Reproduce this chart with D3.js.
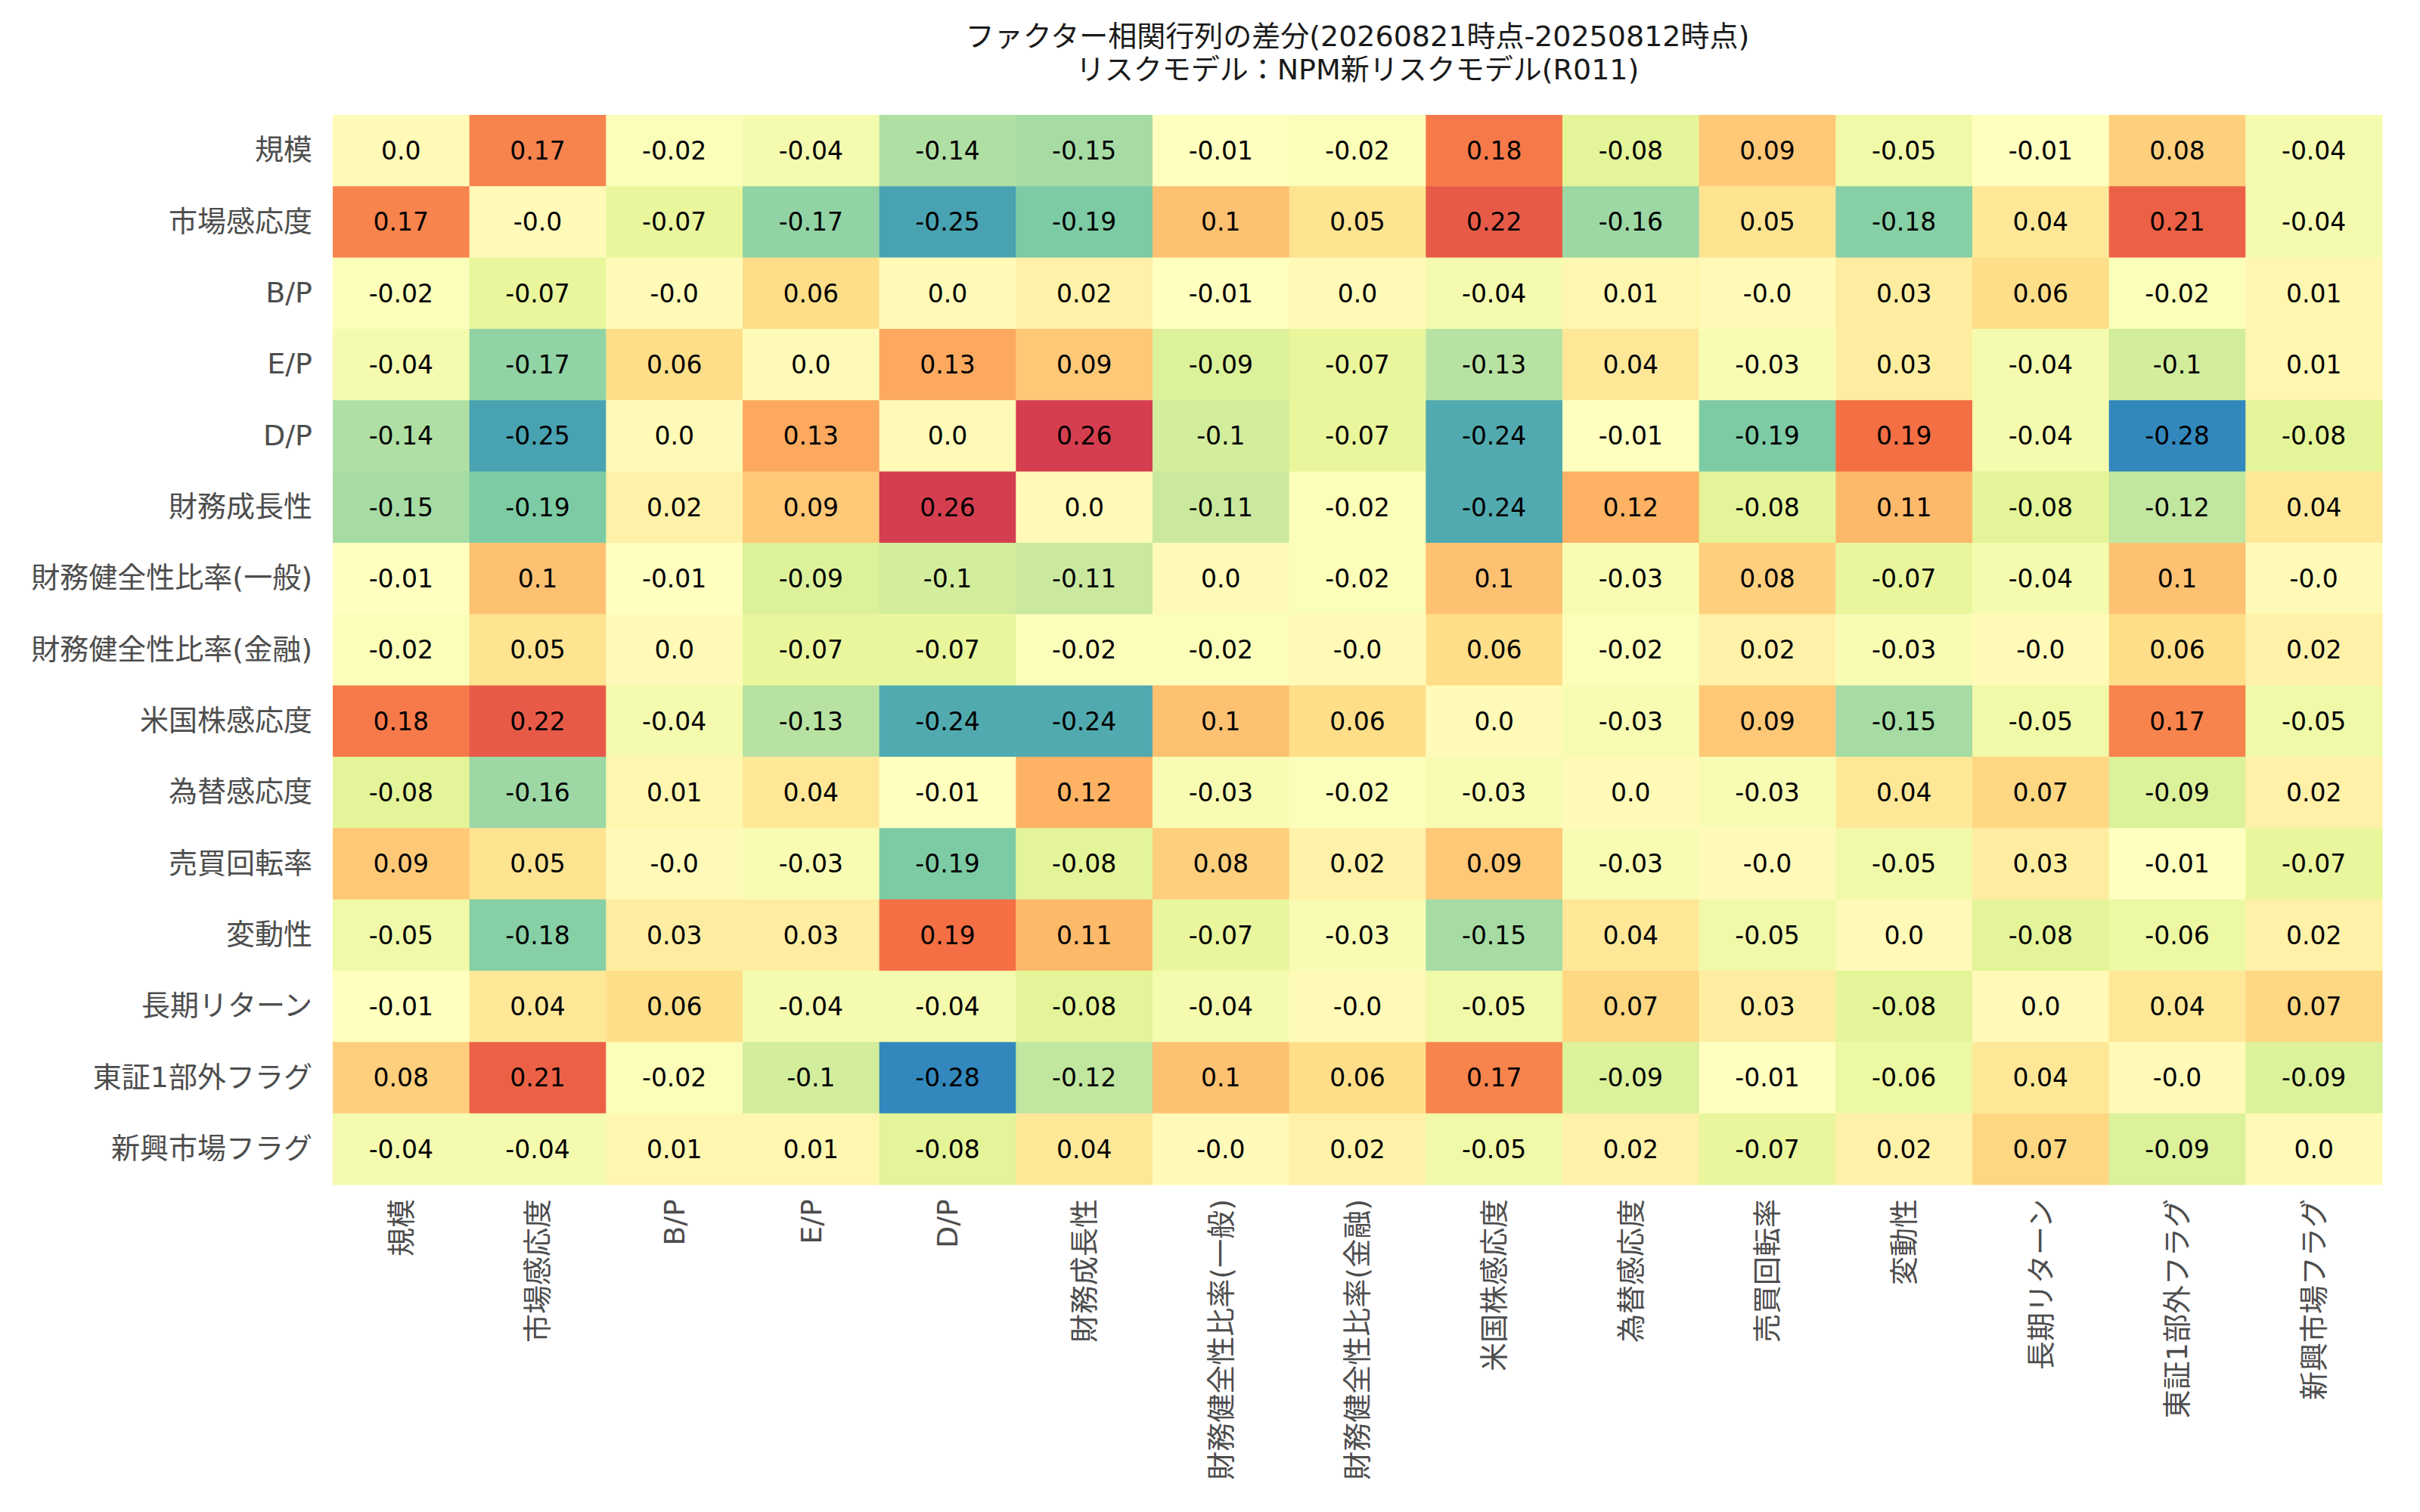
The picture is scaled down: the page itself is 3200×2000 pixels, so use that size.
<!DOCTYPE html>
<html>
<head>
<meta charset="utf-8">
<script src="https://cdn.jsdelivr.net/npm/d3@7"></script>
<style>
    body { margin: 0; background: #ffffff; }
    svg { display: block; }
</style>
</head>
<body>
<div id="chart"></div>
<script>
// factor names (rows and columns are the same)
var factors = ["規模", "市場感応度", "B/P", "E/P", "D/P", "財務成長性",
    "財務健全性比率(一般)", "財務健全性比率(金融)", "米国株感応度", "為替感応度",
    "売買回転率", "変動性", "長期リターン", "東証1部外フラグ", "新興市場フラグ"];

// difference of correlation, one array per row
var rowSize       = [0.0, 0.17, -0.02, -0.04, -0.14, -0.15, -0.01, -0.02, 0.18, -0.08, 0.09, -0.05, -0.01, 0.08, -0.04];
var rowMarket     = [0.17, -0, -0.07, -0.17, -0.25, -0.19, 0.1, 0.05, 0.22, -0.16, 0.05, -0.18, 0.04, 0.21, -0.04];
var rowBP         = [-0.02, -0.07, -0, 0.06, 0.0, 0.02, -0.01, 0.0, -0.04, 0.01, -0, 0.03, 0.06, -0.02, 0.01];
var rowEP         = [-0.04, -0.17, 0.06, 0.0, 0.13, 0.09, -0.09, -0.07, -0.13, 0.04, -0.03, 0.03, -0.04, -0.1, 0.01];
var rowDP         = [-0.14, -0.25, 0.0, 0.13, 0.0, 0.26, -0.1, -0.07, -0.24, -0.01, -0.19, 0.19, -0.04, -0.28, -0.08];
var rowGrowth     = [-0.15, -0.19, 0.02, 0.09, 0.26, 0.0, -0.11, -0.02, -0.24, 0.12, -0.08, 0.11, -0.08, -0.12, 0.04];
var rowHealthGen  = [-0.01, 0.1, -0.01, -0.09, -0.1, -0.11, 0.0, -0.02, 0.1, -0.03, 0.08, -0.07, -0.04, 0.1, -0];
var rowHealthFin  = [-0.02, 0.05, 0.0, -0.07, -0.07, -0.02, -0.02, -0, 0.06, -0.02, 0.02, -0.03, -0, 0.06, 0.02];
var rowUSStock    = [0.18, 0.22, -0.04, -0.13, -0.24, -0.24, 0.1, 0.06, 0.0, -0.03, 0.09, -0.15, -0.05, 0.17, -0.05];
var rowFX         = [-0.08, -0.16, 0.01, 0.04, -0.01, 0.12, -0.03, -0.02, -0.03, 0.0, -0.03, 0.04, 0.07, -0.09, 0.02];
var rowTurnover   = [0.09, 0.05, -0, -0.03, -0.19, -0.08, 0.08, 0.02, 0.09, -0.03, -0, -0.05, 0.03, -0.01, -0.07];
var rowVolatility = [-0.05, -0.18, 0.03, 0.03, 0.19, 0.11, -0.07, -0.03, -0.15, 0.04, -0.05, 0.0, -0.08, -0.06, 0.02];
var rowLongRet    = [-0.01, 0.04, 0.06, -0.04, -0.04, -0.08, -0.04, -0, -0.05, 0.07, 0.03, -0.08, 0.0, 0.04, 0.07];
var rowNonFirst   = [0.08, 0.21, -0.02, -0.1, -0.28, -0.12, 0.1, 0.06, 0.17, -0.09, -0.01, -0.06, 0.04, -0, -0.09];
var rowEmerging   = [-0.04, -0.04, 0.01, 0.01, -0.08, 0.04, -0, 0.02, -0.05, 0.02, -0.07, 0.02, 0.07, -0.09, 0.0];

var matrix = [rowSize, rowMarket, rowBP, rowEP, rowDP, rowGrowth, rowHealthGen, rowHealthFin,
    rowUSStock, rowFX, rowTurnover, rowVolatility, rowLongRet, rowNonFirst, rowEmerging];

var titleLines = ["ファクター相関行列の差分(20260821時点-20250812時点)",
    "リスクモデル：NPM新リスクモデル(R011)"];

// Spectral, reversed below (high = red)
var spectral = ["#9e0142", "#d53e4f", "#f46d43", "#fdae61", "#fee08b", "#ffffbf",
    "#e6f598", "#abdda4", "#66c2a5", "#3288bd", "#5e4fa2"];
var vmin = -0.3475, vmax = 0.3275;

var width = 3200, height = 2000;
// note: "top" is taken by window.top, so use other names
var plotLeft = 440, plotRight = 3150, plotTop = 152, plotBottom = 1567;
var font = "'DejaVu Sans', 'Noto Sans CJK JP', sans-serif";

var svg = d3.select("#chart").append("svg")
    .attr("width", width)
    .attr("height", height)
    .style("background", "#ffffff");

var x = d3.scaleBand().domain(factors).range([plotLeft, plotRight]).padding(0);
var y = d3.scaleBand().domain(factors).range([plotTop, plotBottom]).padding(0);

var stops = d3.range(spectral.length).map(function (i) {
    return vmax - i * (vmax - vmin) / (spectral.length - 1);
});
var color = d3.scaleLinear().domain(stops).range(spectral).clamp(true);

// python style rounding output: 0.1 -> "0.1", 0 -> "0.0", -0 -> "-0.0"
function fmt(v) {
    if (Object.is(v, -0)) return "-0.0";
    var s = String(v);
    if (s.indexOf(".") < 0) s = s + ".0";
    return s;
}

var cells = [];
matrix.forEach(function (row, i) {
    row.forEach(function (v, j) {
        cells.push({row: factors[i], col: factors[j], value: v});
    });
});

var cell = svg.append("g").selectAll("g")
    .data(cells)
    .enter().append("g");

cell.append("rect")
    .attr("x", function (d) { return x(d.col); })
    .attr("y", function (d) { return y(d.row); })
    .attr("width", x.bandwidth() + 0.5)
    .attr("height", y.bandwidth() + 0.5)
    .attr("fill", function (d) { return color(d.value); });

cell.append("text")
    .attr("x", function (d) { return x(d.col) + x.bandwidth() / 2; })
    .attr("y", function (d) { return y(d.row) + y.bandwidth() / 2; })
    .attr("text-anchor", "middle")
    .attr("dy", "0.36em")
    .style("font-family", font)
    .style("font-size", "33px")
    .style("fill", "#000000")
    .text(function (d) { return fmt(d.value); });

// axes
var yAxis = svg.append("g")
    .attr("transform", "translate(" + plotLeft + ",0)")
    .call(d3.axisLeft(y).tickSize(0).tickPadding(27));

var xAxis = svg.append("g")
    .attr("transform", "translate(0," + plotBottom + ")")
    .call(d3.axisBottom(x).tickSize(0));

svg.selectAll(".domain").remove();

yAxis.selectAll("text")
    .style("font-family", font)
    .style("font-size", "38px")
    .style("fill", "#4d4d4d");

xAxis.selectAll("text")
    .attr("transform", "rotate(-90)")
    .attr("text-anchor", "end")
    .attr("x", -19)
    .attr("y", 0)
    .attr("dy", "0.35em")
    .style("font-family", font)
    .style("font-size", "38px")
    .style("fill", "#4d4d4d");

// title
svg.append("g").selectAll("text")
    .data(titleLines)
    .enter().append("text")
    .attr("x", (plotLeft + plotRight) / 2)
    .attr("y", function (d, i) { return 48 + i * 44; })
    .attr("dy", "0.35em")
    .attr("text-anchor", "middle")
    .style("font-family", font)
    .style("font-size", "38px")
    .style("fill", "#1a1a1a")
    .text(function (d) { return d; });
</script>
</body>
</html>
